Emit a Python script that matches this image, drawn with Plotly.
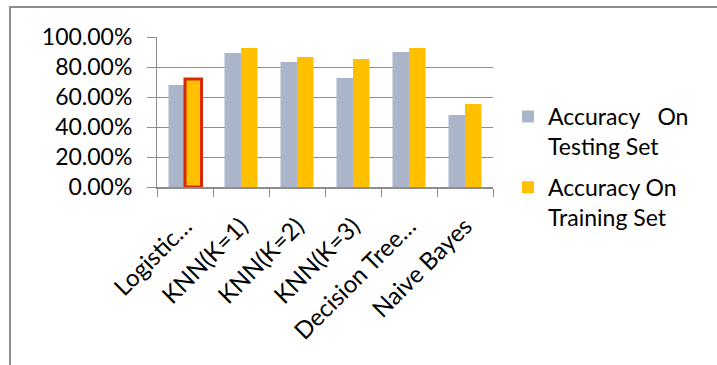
import plotly.graph_objects as go

categories = ["Logistic…", "KNN(K=1)", "KNN(K=2)", "KNN(K=3)", "Decision Tree…", "Naive Bayes"]
testing_acc = [0.68, 0.893, 0.833, 0.727, 0.90, 0.48]
training_acc = [0.72, 0.927, 0.867, 0.853, 0.927, 0.553]
series_names = ["Accuracy&nbsp;&nbsp;&nbsp;On<br>Testing Set", "Accuracy On<br>Training Set"]
y_ticks = [0, 0.2, 0.4, 0.6, 0.8, 1.0]
highlight_index = 0

FONT = "Lato"
GRAY = "#8e8e8e"

W, H = 717, 365
ML, MR, MT, MB = 157, 224, 37, 178
PW, PH = W - ML - MR, H - MT - MB

fig = go.Figure()
fig.add_trace(go.Bar(
    x=categories, y=testing_acc, name=series_names[0],
    offsetgroup="test", legendgroup="test",
    marker=dict(color="#ABB5C9", line=dict(width=0)),
))
fig.add_trace(go.Bar(
    x=categories, y=training_acc, name=series_names[1],
    offsetgroup="train", legendgroup="train",
    marker=dict(color="#FFC000", line=dict(width=0)),
))
# selected (highlighted) bar overlay
fig.add_trace(go.Bar(
    x=[categories[highlight_index]], y=[training_acc[highlight_index]],
    offsetgroup="train", showlegend=False, hoverinfo="skip",
    marker=dict(color="#FFC000", line=dict(color="#D82808", width=3)),
))

# outer chart frame (left and top visible)
fig.add_shape(type="rect", xref="paper", yref="paper",
              x0=(10 - ML) / PW, x1=(W + 20 - ML) / PW,
              y0=-(H + 20 - (MT + PH)) / PH, y1=(MT + PH - 7) / PH,
              line=dict(color=GRAY, width=2), fillcolor="rgba(0,0,0,0)")

fig.update_layout(
    width=W, height=H,
    margin=dict(l=ML, r=MR, t=MT, b=MB, pad=0),
    paper_bgcolor="white", plot_bgcolor="white",
    barmode="group", bargap=0.41, bargroupgap=0,
    font=dict(family=FONT, color="black", size=23),
    showlegend=True,
    legend=dict(x=(508 - ML) / PW, y=(MT + PH - 95) / PH, xanchor="left", yanchor="top",
                font=dict(family=FONT, size=23, color="black"), valign="top",
                bgcolor="rgba(0,0,0,0)", traceorder="grouped", tracegroupgap=8),
)
fig.update_yaxes(range=[0, 1], tickvals=y_ticks, tickformat=".2%",
                 showgrid=True, gridcolor=GRAY, gridwidth=1,
                 showline=True, linecolor=GRAY, linewidth=1,
                 ticks="outside", ticklen=9, tickcolor=GRAY,
                 ticklabelstandoff=10, zeroline=False,
                 tickfont=dict(family=FONT, size=23, color="black"))
fig.update_xaxes(showline=True, linecolor=GRAY, linewidth=1.5,
                 ticks="outside", ticklen=8, tickcolor=GRAY, tickson="boundaries",
                 tickangle=-45, showgrid=False, ticklabelstandoff=14,
                 tickfont=dict(family=FONT, size=24, color="black"))

fig.write_html("out.html")
